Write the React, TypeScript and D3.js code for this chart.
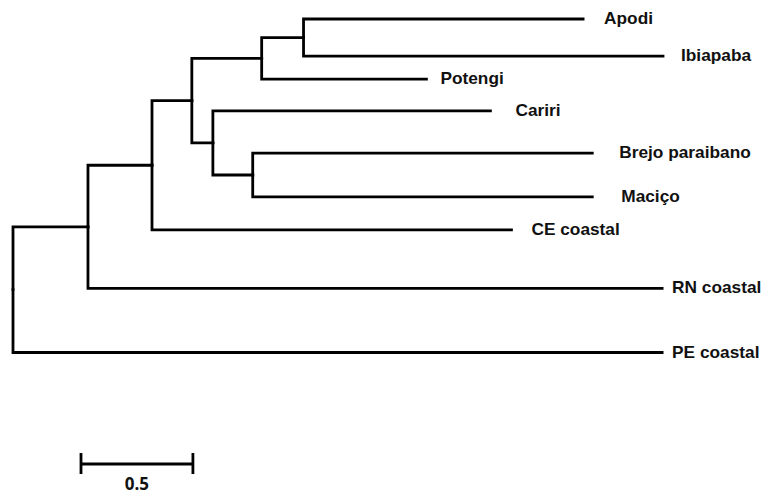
import React from "react";
import * as d3 from "d3";

// ---- data ----
const nodeIds = [
  "root", "A", "B", "C", "D", "E", "Apodi", "Ibiapaba", "Potengi",
  "F", "Cariri", "G", "Brejo paraibano", "Maciço", "CE coastal", "RN coastal", "PE coastal",
];
const parentIds = [
  "", "root", "A", "B", "C", "D", "E", "E", "D",
  "C", "F", "F", "G", "G", "B", "A", "root",
];
const branchLengths = [
  0, 0.335, 0.286, 0.178, 0.312, 0.187, 1.249, 1.606, 0.736,
  0.094, 1.24, 0.178, 1.517, 1.517, 1.606, 2.565, 2.9,
];
const scaleBarValue = 0.5;
const scaleBarLabel = "0.5";

// ---- layout (not data) ----
const W = 768, H = 496;
const leafRows: Record<string, number> = {
  Apodi: 0, Ibiapaba: 1.0, Potengi: 1.62, Cariri: 2.48, "Brejo paraibano": 3.62,
  "Maciço": 4.8, "CE coastal": 5.69, "RN coastal": 7.27, "PE coastal": 9.0,
};
const labelGap: Record<string, number> = {
  Apodi: 21, Ibiapaba: 18, Potengi: 14, Cariri: 25, "Brejo paraibano": 27,
  "Maciço": 29, "CE coastal": 20, "RN coastal": 10, "PE coastal": 10,
};

export default function App() {
  const table = nodeIds.map((id, i) => ({ id, parent: parentIds[i] || null, len: branchLengths[i] }));
  const root = d3.stratify<any>().id((d) => d.id).parentId((d) => d.parent)(table);

  const depth = new Map<string, number>();
  root.each((n: any) => {
    depth.set(n.id, (n.parent ? depth.get(n.parent.id)! : 0) + n.data.len);
  });
  const maxDepth = d3.max(Array.from(depth.values()))!;

  const x = d3.scaleLinear().domain([0, maxDepth]).range([13, 663]);
  const y = d3.scaleLinear().domain([0, 9]).range([19, 352.5]);

  const pos = new Map<string, { x: number; y: number }>();
  root.eachAfter((n: any) => {
    let yy: number;
    if (!n.children) yy = y(leafRows[n.id]);
    else {
      const ys = n.children.map((c: any) => pos.get(c.id)!.y);
      yy = (ys[0] + ys[ys.length - 1]) / 2;
    }
    pos.set(n.id, { x: x(depth.get(n.id)!), y: yy });
  });

  const links = root.links();
  const stroke = "#000";
  const sw = 2.8;

  const barX0 = 81;
  const barW = x(scaleBarValue) - x(0);
  const barY = 464;

  return (
    <svg width={W} height={H} style={{ position: "absolute", left: 0, top: 0, background: "#fff" }}>
      <g fill="none" stroke={stroke} strokeWidth={sw} strokeLinejoin="miter" strokeLinecap="square">
        {links.map((l: any, i: number) => {
          const p = pos.get(l.source.id)!;
          const c = pos.get(l.target.id)!;
          const path = d3.path();
          path.moveTo(p.x, p.y);
          path.lineTo(p.x, c.y);
          path.lineTo(c.x, c.y);
          return <path key={i} d={path.toString()} />;
        })}
      </g>
      <g fontFamily="'Liberation Sans', Arial, sans-serif" fontWeight="bold" fontSize={16} fill="#111">
        {root.leaves().map((lf: any) => {
          const p = pos.get(lf.id)!;
          return (
            <text key={lf.id} transform={`translate(${p.x + labelGap[lf.id]},${p.y + 5}) scale(1.08,1)`}>
              {lf.id}
            </text>
          );
        })}
      </g>
      <g stroke={stroke} strokeWidth={sw}>
        <line x1={barX0} x2={barX0 + barW} y1={barY} y2={barY} />
        <line x1={barX0} x2={barX0} y1={453} y2={474} />
        <line x1={barX0 + barW} x2={barX0 + barW} y1={453} y2={474} />
      </g>
      <text
        x={barX0 + barW / 2}
        y={490}
        textAnchor="middle"
        fontFamily="'Open Sans', sans-serif"
        fontWeight="bold"
        fontSize={17}
        fill="#111"
      >
        {scaleBarLabel}
      </text>
    </svg>
  );
}
